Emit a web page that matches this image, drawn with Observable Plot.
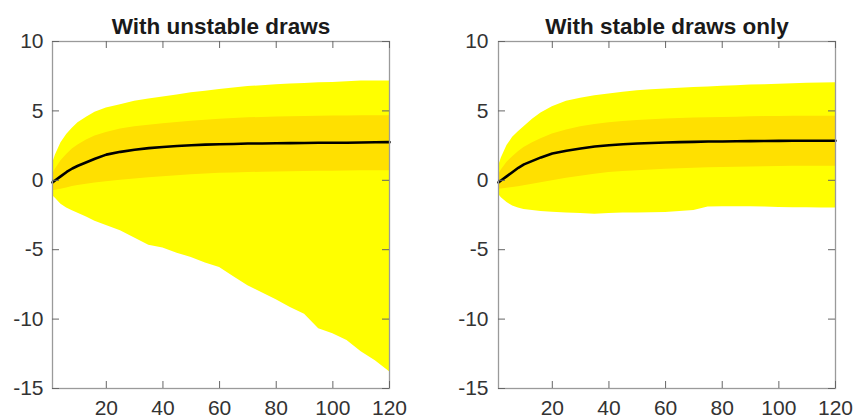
<!DOCTYPE html>
<html>
<head>
<meta charset="utf-8">
<script src="https://cdn.jsdelivr.net/npm/d3@7"></script>
<script src="https://cdn.jsdelivr.net/npm/@observablehq/plot@0.6"></script>
<style>
  html, body { margin: 0; padding: 0; background: #fff; }
  #wrap { position: relative; width: 855px; height: 418px; overflow: hidden; }
  #wrap svg { position: absolute; top: 0; }
</style>
</head>
<body>
<div id="wrap"></div>
<script>
// ---- data ----
const titles = ["With unstable draws", "With stable draws only"];
const xTicks = [20, 40, 60, 80, 100, 120];
const yTicks = [-15, -10, -5, 0, 5, 10];
const horizons = [1, 2, 4, 6, 8, 10, 13, 16, 20, 25, 30, 35, 40, 45, 50, 55, 60, 65, 70, 75, 80, 85, 90, 95, 100, 105, 110, 115, 120];

// left panel: with unstable draws
const leftOuterHi = [1.2, 1.8, 2.7, 3.3, 3.75, 4.15, 4.55, 4.9, 5.2, 5.45, 5.7, 5.85, 6.0, 6.15, 6.3, 6.42, 6.55, 6.65, 6.75, 6.82, 6.88, 6.93, 6.98, 7.02, 7.05, 7.1, 7.15, 7.15, 7.15];
const leftInnerHi = [0.4, 0.8, 1.4, 1.85, 2.25, 2.55, 2.9, 3.2, 3.45, 3.7, 3.85, 3.97, 4.07, 4.17, 4.25, 4.33, 4.4, 4.45, 4.5, 4.53, 4.56, 4.58, 4.6, 4.62, 4.63, 4.64, 4.65, 4.65, 4.65];
const leftMedian  = [-0.15, 0.0, 0.3, 0.6, 0.85, 1.05, 1.3, 1.55, 1.85, 2.05, 2.2, 2.32, 2.4, 2.47, 2.53, 2.57, 2.6, 2.62, 2.65, 2.65, 2.67, 2.68, 2.69, 2.7, 2.7, 2.71, 2.72, 2.74, 2.75];
const leftInnerLo = [-0.75, -0.72, -0.65, -0.55, -0.45, -0.38, -0.28, -0.2, -0.1, 0.0, 0.1, 0.18, 0.26, 0.33, 0.4, 0.45, 0.5, 0.53, 0.56, 0.58, 0.6, 0.62, 0.63, 0.65, 0.66, 0.67, 0.68, 0.69, 0.69];
const leftOuterLo = [-1.1, -1.3, -1.72, -2.0, -2.2, -2.38, -2.65, -2.95, -3.25, -3.64, -4.15, -4.68, -4.88, -5.25, -5.56, -5.95, -6.28, -6.95, -7.6, -8.1, -8.6, -9.16, -9.65, -10.7, -11.05, -11.55, -12.35, -13.0, -13.8];

// right panel: with stable draws only
const rightOuterHi = [1.0, 1.6, 2.5, 3.1, 3.5, 3.85, 4.4, 4.85, 5.3, 5.7, 5.92, 6.09, 6.22, 6.35, 6.45, 6.52, 6.58, 6.63, 6.68, 6.73, 6.78, 6.82, 6.86, 6.89, 6.92, 6.96, 6.99, 7.01, 7.02];
const rightInnerHi = [0.4, 0.75, 1.3, 1.7, 2.05, 2.36, 2.7, 3.0, 3.33, 3.62, 3.85, 4.02, 4.15, 4.24, 4.3, 4.36, 4.41, 4.45, 4.48, 4.51, 4.53, 4.55, 4.57, 4.59, 4.6, 4.61, 4.62, 4.62, 4.62];
const rightMedian  = [-0.15, 0.0, 0.3, 0.6, 0.9, 1.15, 1.4, 1.65, 1.93, 2.13, 2.29, 2.43, 2.53, 2.6, 2.65, 2.69, 2.72, 2.75, 2.77, 2.79, 2.8, 2.81, 2.82, 2.83, 2.84, 2.85, 2.85, 2.85, 2.85];
const rightInnerLo = [-0.65, -0.62, -0.57, -0.52, -0.46, -0.4, -0.28, -0.17, -0.03, 0.15, 0.3, 0.44, 0.56, 0.63, 0.69, 0.75, 0.8, 0.84, 0.87, 0.9, 0.92, 0.94, 0.96, 0.98, 1.0, 1.01, 1.02, 1.02, 1.02];
const rightOuterLo = [-1.0, -1.25, -1.6, -1.85, -2.0, -2.1, -2.18, -2.25, -2.3, -2.36, -2.4, -2.45, -2.4, -2.36, -2.35, -2.33, -2.32, -2.25, -2.17, -1.92, -1.9, -1.9, -1.9, -1.93, -1.96, -1.97, -1.98, -2.0, -2.0];

// ---- build tables ----
function table(oHi, iHi, med, iLo, oLo) {
  return horizons.map((h, i) => ({h, oHi: oHi[i], iHi: iHi[i], med: med[i], iLo: iLo[i], oLo: oLo[i]}));
}
const panels = [
  {title: titles[0], data: table(leftOuterHi, leftInnerHi, leftMedian, leftInnerLo, leftOuterLo),
   left: 0, width: 430, marginLeft: 52, marginRight: 41, pad: 9},
  {title: titles[1], data: table(rightOuterHi, rightInnerHi, rightMedian, rightInnerLo, rightOuterLo),
   left: 430, width: 425, marginLeft: 68, marginRight: 20, pad: 10}
];

const H = 418, MT = 41, MB = 30, TICK = 7;
const wrap = document.getElementById("wrap");
for (const p of panels) {
  const innerW = p.width - p.marginLeft - p.marginRight;
  const innerH = H - MT - MB;
  const svg = Plot.plot({
    width: p.width,
    height: H,
    marginTop: MT,
    marginBottom: MB,
    marginLeft: p.marginLeft,
    marginRight: p.marginRight,
    style: {fontFamily: "'Liberation Sans', Arial, sans-serif", fontSize: "21px", color: "#333", background: "#fff"},
    x: {domain: [1, 120], label: null},
    y: {domain: [-15, 10], label: null},
    marks: [
      Plot.areaY(p.data, {x: "h", y1: "oLo", y2: "oHi", fill: "#ffff00"}),
      Plot.areaY(p.data, {x: "h", y1: "iLo", y2: "iHi", fill: "#ffe000"}),
      Plot.line(p.data, {x: "h", y: "med", stroke: "#000", strokeWidth: 2.6}),
      Plot.frame({stroke: "#9a9a9a", strokeWidth: 1.3}),
      Plot.tickX(xTicks, {x: d => d, insetTop: innerH - TICK, stroke: "#666"}),
      Plot.tickX(xTicks, {x: d => d, insetBottom: innerH - TICK, stroke: "#666"}),
      Plot.tickY(yTicks, {y: d => d, insetRight: innerW - TICK, stroke: "#666"}),
      Plot.tickY(yTicks, {y: d => d, insetLeft: innerW - TICK, stroke: "#666"}),
      Plot.axisX(xTicks, {anchor: "bottom", tickSize: 0, tickPadding: 12, label: null, tickFormat: d => String(d), fill: "#333"}),
      Plot.axisY(yTicks, {anchor: "left", tickSize: 0, tickPadding: p.pad, label: null, tickFormat: d => String(d), fill: "#333"}),
      Plot.text([p.title], {frameAnchor: "top", lineAnchor: "bottom", dy: -8, text: d => d,
        fontWeight: "bold", fontSize: 22.5, fill: "#1a1a1a"})
    ]
  });
  svg.style.left = p.left + "px";
  wrap.appendChild(svg);
}
</script>
</body>
</html>
